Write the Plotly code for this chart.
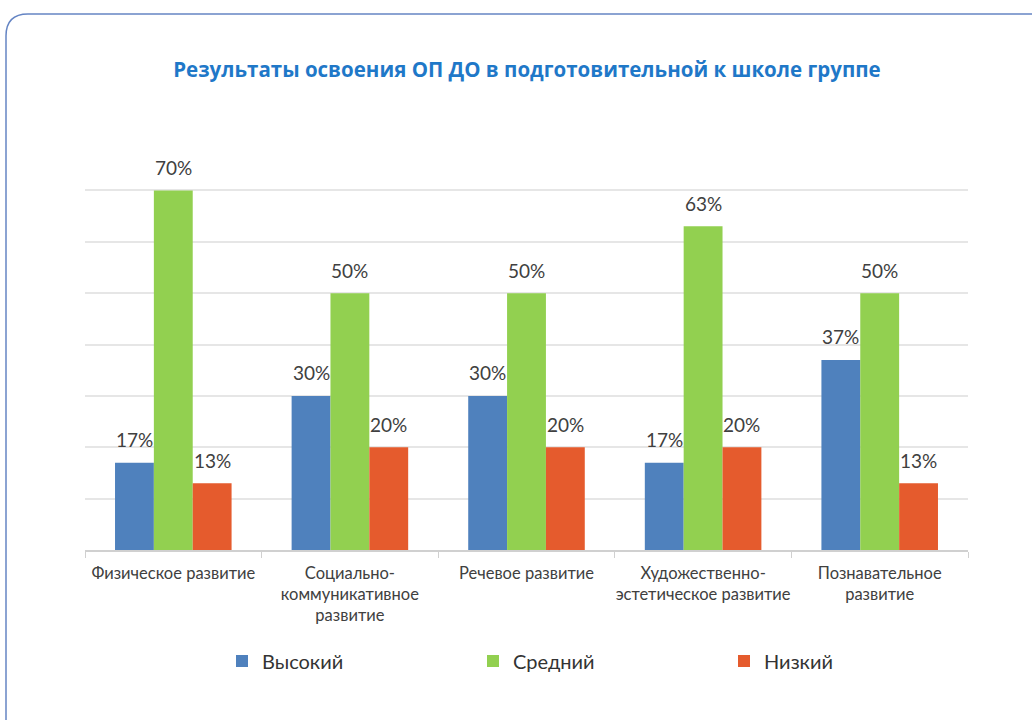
import plotly.graph_objects as go

categories = ["Физическое развитие", "Социально-<br>коммуникативное<br>развитие", "Речевое развитие",
              "Художественно-<br>эстетическое развитие", "Познавательное<br>развитие"]
high = [17, 30, 30, 17, 37]
mid = [70, 50, 50, 63, 50]
low = [13, 20, 20, 20, 13]
series_names = ["Высокий", "Средний", "Низкий"]
colors = ["#4f81bd", "#92d050", "#e55b2d"]

FW, FH = 1032, 720
L, R, T, B = 85, 968, 139, 550
W, H = R - L, B - T
BARGAP = 0.34

def px(x):
    return (x - L) / W

def py(y):
    return (B - y) / H

fig = go.Figure()
for name, vals, c in zip(series_names, [high, mid, low], colors):
    fig.add_trace(go.Bar(
        x=categories, y=vals, name=name, marker_color=c, marker_line_width=0,
    ))

# value labels above bars
bar_w = W / len(categories) * (1 - BARGAP) / 3
for i, vals in enumerate([high, mid, low]):
    for cat, v in zip(categories, vals):
        fig.add_annotation(x=cat, y=v, xref="x", yref="y", text=f"{v}%",
                           showarrow=False, xshift=(i - 1) * bar_w, yshift=23,
                           yanchor="middle", xanchor="center",
                           font=dict(size=19, color="#404040", family="Lato, Open Sans, sans-serif"))

# card border (rounded top-left corner)
rx, ry = 22, 22
path = (f"M {px(6)},{py(780)} L {px(6)},{py(14 + ry)} "
        f"Q {px(6)},{py(14)} {px(6 + rx)},{py(14)} L {px(1060)},{py(14)}")
fig.add_shape(type="path", path=path, xref="paper", yref="paper",
              line=dict(color="#6585c4", width=1.5))

fig.update_layout(
    width=FW, height=FH,
    margin=dict(l=L, r=FW - R, t=T, b=FH - B),
    paper_bgcolor="white", plot_bgcolor="white",
    barmode="group", bargap=BARGAP, bargroupgap=0,
    title=dict(text="<b>Результаты освоения ОП ДО в подготовительной к школе группе</b>",
               x=px(527), xref="paper", xanchor="center",
               y=1 - 70 / FH, yanchor="middle",
               font=dict(size=20.5, color="#1f78c8", family="Open Sans, sans-serif")),
    legend=dict(orientation="h", x=px(222), xref="paper", xanchor="left",
                y=py(661), yanchor="middle",
                entrywidth=206, entrywidthmode="pixels",
                font=dict(size=20, color="#333333", family="Lato, Open Sans, sans-serif")),
    showlegend=True,
)
fig.update_xaxes(showline=True, linecolor="#d0d0d0", linewidth=1.5,
                 ticks="outside", tickson="boundaries", ticklen=6, tickcolor="#d0d0d0",
                 tickangle=0, ticklabelstandoff=7,
                 tickfont=dict(size=16.5, color="#404040", family="Lato, Open Sans, sans-serif"),
                 showgrid=False)
fig.update_yaxes(range=[0, 80], dtick=10, showticklabels=False, showgrid=True,
                 gridcolor="#e6e6e6", gridwidth=1.5, zeroline=False, ticks="")

fig.write_html("out.html", config={"displayModeBar": False},
               post_script="document.body.style.margin='0';document.documentElement.style.overflow='hidden';")
